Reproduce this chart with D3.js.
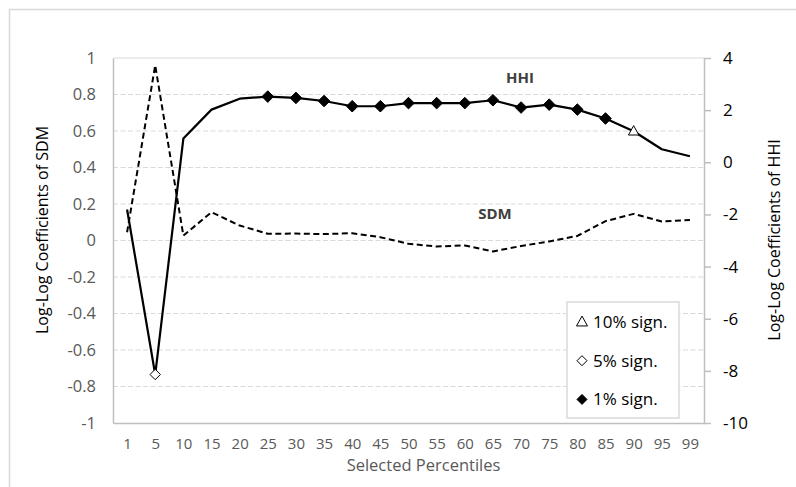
<!DOCTYPE html>
<html>
<head>
<meta charset="utf-8">
<script src="https://cdn.jsdelivr.net/npm/d3@7"></script>
<style>
  html, body { margin: 0; padding: 0; background: #fff; }
  svg { display: block; font-family: "Open Sans", "Noto Sans", sans-serif; }
</style>
</head>
<body>
<svg id="chart" width="796" height="487"></svg>
<script>
// Selected percentiles on the x axis
const percentiles = ["1","5","10","15","20","25","30","35","40","45","50","55","60","65","70","75","80","85","90","95","99"];
// Log-log coefficients of SDM (left axis)
const sdmValues = [0.045, 0.96, 0.027, 0.155, 0.082, 0.037, 0.038, 0.035, 0.04, 0.018, -0.018, -0.033, -0.027, -0.06, -0.03, -0.005, 0.025, 0.106, 0.146, 0.104, 0.113];
// Log-log coefficients of HHI (right axis)
const hhiValues = [-1.81, -8.14, 0.91, 2.02, 2.44, 2.52, 2.47, 2.35, 2.15, 2.15, 2.27, 2.27, 2.27, 2.38, 2.10, 2.21, 2.02, 1.68, 1.19, 0.50, 0.23];
// Significance marker of each HHI coefficient: "1", "5", "10" or "" for none
const hhiSignificance = ["", "5", "", "", "", "1", "1", "1", "1", "1", "1", "1", "1", "1", "1", "1", "1", "1", "10", "", ""];
// Tick values
const leftTicks = [-1, -0.8, -0.6, -0.4, -0.2, 0, 0.2, 0.4, 0.6, 0.8, 1];
const rightTicks = [-10, -8, -6, -4, -2, 0, 2, 4];
const legendItems = [
  { key: "10", label: "10% sign." },
  { key: "5", label: "5% sign." },
  { key: "1", label: "1% sign." }
];

const svg = d3.select("#chart");
const plot = { left: 113, right: 704, top: 58, bottom: 423 };

const x = d3.scalePoint().domain(percentiles).range([plot.left, plot.right]).padding(0.5);
const yLeft = d3.scaleLinear().domain([-1, 1]).range([plot.bottom, plot.top]);
const yRight = d3.scaleLinear().domain([-10, 4]).range([plot.bottom, plot.top]);

// Outer chart frame
svg.append("rect")
  .attr("x", 9.5).attr("y", 9.5).attr("width", 800).attr("height", 500)
  .attr("fill", "#fff").attr("stroke", "#d9d9d9").attr("stroke-width", 1.5);

// Horizontal gridlines at the left-axis ticks
svg.append("g").selectAll("line")
  .data(leftTicks.filter(t => t > -1))
  .join("line")
  .attr("x1", plot.left).attr("x2", plot.right)
  .attr("y1", d => yLeft(d)).attr("y2", d => yLeft(d))
  .attr("stroke", "#d9d9d9").attr("stroke-width", 1.2)
  .attr("stroke-dasharray", d => d === 1 ? null : "5,2.5");

// Left axis
const leftAxis = d3.axisLeft(yLeft).tickValues(leftTicks).tickSize(0).tickPadding(17)
  .tickFormat(d => String(+d.toFixed(1)));
const gL = svg.append("g").attr("transform", `translate(${plot.left},0)`).call(leftAxis);
gL.select(".domain").attr("stroke", "#bfbfbf").attr("stroke-width", 1.5);
gL.selectAll("text").attr("font-size", 16.5).attr("fill", "#595959").attr("font-family", "Open Sans");

// Right axis
const rightAxis = d3.axisRight(yRight).tickValues(rightTicks).tickSize(7).tickSizeOuter(0).tickPadding(12)
  .tickFormat(d => String(d));
const gR = svg.append("g").attr("transform", `translate(${plot.right},0)`).call(rightAxis);
gR.select(".domain").attr("stroke", "#bfbfbf").attr("stroke-width", 1.5);
gR.selectAll(".tick line").attr("stroke", "#bfbfbf").attr("stroke-width", 1.5);
gR.selectAll("text").attr("font-size", 17).attr("fill", "#000").attr("font-family", "Open Sans");

// Bottom axis
const bottomAxis = d3.axisBottom(x).tickSize(0).tickPadding(15);
const gB = svg.append("g").attr("transform", `translate(0,${plot.bottom})`).call(bottomAxis);
gB.select(".domain").attr("stroke", "#bfbfbf").attr("stroke-width", 1.5);
gB.selectAll("text").attr("font-size", 15).attr("fill", "#595959").attr("font-family", "Open Sans");

// Axis titles
svg.append("text")
  .attr("x", (plot.left + plot.right) / 2 + 15).attr("y", 471)
  .attr("text-anchor", "middle").attr("font-size", 16.5).attr("fill", "#595959")
  .text("Selected Percentiles");
svg.append("text")
  .attr("transform", `translate(48,230) rotate(-90)`)
  .attr("text-anchor", "middle").attr("font-size", 16).attr("fill", "#000")
  .text("Log-Log Coefficients of SDM");
svg.append("text")
  .attr("transform", `translate(780,240) rotate(-90)`)
  .attr("text-anchor", "middle").attr("font-size", 16).attr("fill", "#000")
  .text("Log-Log Coefficients of HHI");

// SDM line (dashed, left axis)
const sdmLine = d3.line().x((d, i) => x(percentiles[i])).y(d => yLeft(d));
svg.append("path")
  .datum(sdmValues)
  .attr("d", sdmLine)
  .attr("fill", "none").attr("stroke", "#000").attr("stroke-width", 2)
  .attr("stroke-dasharray", "6,3.5").attr("stroke-linejoin", "round");

// HHI line (solid, right axis)
const hhiLine = d3.line().x((d, i) => x(percentiles[i])).y(d => yRight(d));
svg.append("path")
  .datum(hhiValues)
  .attr("d", hhiLine)
  .attr("fill", "none").attr("stroke", "#000").attr("stroke-width", 2.2)
  .attr("stroke-linejoin", "round");

// Marker shapes for the significance levels
function markerPath(key, r) {
  if (key === "10") {
    const h = r * 1.8;
    return `M0,${-h * 0.6}L${r},${h * 0.4}L${-r},${h * 0.4}Z`;
  }
  return `M0,${-r}L${r},0L0,${r}L${-r},0Z`;
}
function markerFill(key) { return key === "1" ? "#000" : "#fff"; }

const markerData = hhiValues.map((v, i) => ({ v, i, key: hhiSignificance[i] })).filter(d => d.key !== "");
svg.append("g").selectAll("path")
  .data(markerData)
  .join("path")
  .attr("transform", d => `translate(${x(percentiles[d.i])},${yRight(d.v)})`)
  .attr("d", d => markerPath(d.key, d.key === "1" ? 5.8 : 5.2))
  .attr("fill", d => markerFill(d.key))
  .attr("stroke", "#000").attr("stroke-width", 1);

// Series labels
svg.append("text").attr("x", 520).attr("y", 83).attr("text-anchor", "middle")
  .attr("font-size", 15).attr("font-weight", "bold").attr("fill", "#404040").text("HHI");
svg.append("text").attr("x", 495).attr("y", 219).attr("text-anchor", "middle")
  .attr("font-size", 15).attr("font-weight", "bold").attr("fill", "#404040").text("SDM");

// Legend
const legend = svg.append("g");
legend.append("rect")
  .attr("x", 567).attr("y", 302).attr("width", 112).attr("height", 116)
  .attr("fill", "#fff").attr("stroke", "#d9d9d9").attr("stroke-width", 1.5);
const rows = legend.selectAll("g.row")
  .data(legendItems)
  .join("g").attr("class", "row")
  .attr("transform", (d, i) => `translate(582,${322 + i * 38.7})`);
rows.append("path")
  .attr("d", d => markerPath(d.key, d.key === "10" ? 5.5 : 5))
  .attr("fill", d => markerFill(d.key))
  .attr("stroke", "#000").attr("stroke-width", 1);
rows.append("text")
  .attr("x", 11).attr("y", 6)
  .attr("font-size", 17).attr("fill", "#000")
  .text(d => d.label);
</script>
</body>
</html>
